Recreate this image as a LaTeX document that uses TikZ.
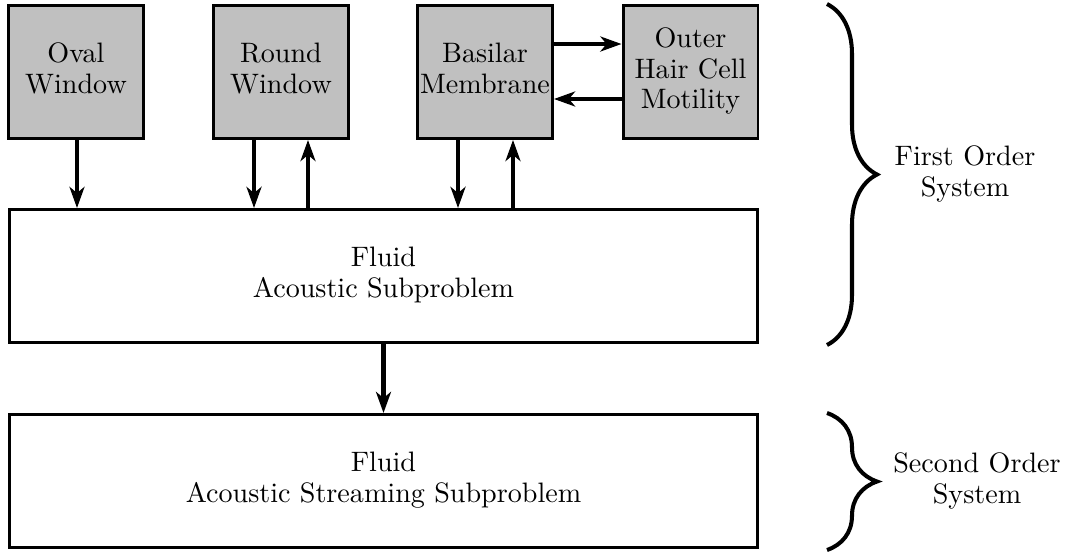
\documentclass[tikz,border=0pt]{standalone}
\usepackage{graphicx}
\usepackage{tikz}
\usepackage{xcolor}
\usetikzlibrary{arrows.meta}
\usetikzlibrary{decorations.pathreplacing}

\definecolor{boxgray}{RGB}{192,192,192}
\newcommand{\txt}[1]{\scalebox{1.6}{\fontsize{10}{10.9}\selectfont\begin{tabular}{@{}c@{}}#1\end{tabular}}}

\tikzset{
  blk/.style={draw, line width=1.7pt, fill=boxgray, minimum width=2.7cm, minimum height=2.66cm, inner sep=0pt},
  wide/.style={draw, line width=1.7pt, minimum width=14.96cm, minimum height=2.66cm, inner sep=0pt},
  flow/.style={line width=2.6pt, -{Stealth[length=12pt,width=8.5pt,inset=3.5pt]}},
  grp/.style={decorate, decoration={brace, amplitude=1cm}, line width=2.3pt}
}

\begin{document}
\begin{tikzpicture}[x=0.02cm,y=-0.02cm]
				\useasboundingbox (0,0) rectangle (1068,551);
				\node[blk] (ow) at (76,72){\txt{Oval\\Window}};
				\node[blk] (rw) at (281,72){\txt{Round\\Window}};
				\node[blk] (bm) at (485,72){\txt{Basilar\\Membrane}};
				\node[blk] (ohc) at (690.5,72){\txt{Outer\\Hair Cell\\Motility}};
				\node[wide] (fas) at (383.5,276){\txt{Fluid\\Acoustic Subproblem}};
				\node[wide] (fass) at (383.5,481){\txt{Fluid\\Acoustic Streaming Subproblem}};
				\node (fos) at (965,175){\txt{First Order\\System}};
				\node (sos) at (977,482){\txt{Second Order\\System}};
				\begin{scope}[flow]
				\draw ([xshift=0.02cm]ow.south)--([xshift=0.02cm]ow.south |- fas.north);
				\draw ([xshift=-0.54cm]rw.south)--([xshift=-0.54cm]rw.south |- fas.north);
				\draw ([xshift=0.54cm]rw.south |- fas.north)--([xshift=0.54cm]rw.south);
				\draw ([xshift=-0.54cm]bm.south)--([xshift=-0.54cm]bm.south |- fas.north);
				\draw ([xshift=0.56cm]bm.south |- fas.north)--([xshift=0.56cm]bm.south);
				\draw ([yshift=0.56cm]bm.east)--([yshift=0.56cm]bm.east -| ohc.west);
				\draw ([yshift=-0.54cm]ohc.west)--([yshift=-0.54cm]ohc.west -| bm.east);
				\draw (fas)--(fass);
				\end{scope}
				\draw[grp] (827,4)--(827,345);
				\draw[grp] (827,413)--(827,550);
			\end{tikzpicture}
\end{document}
